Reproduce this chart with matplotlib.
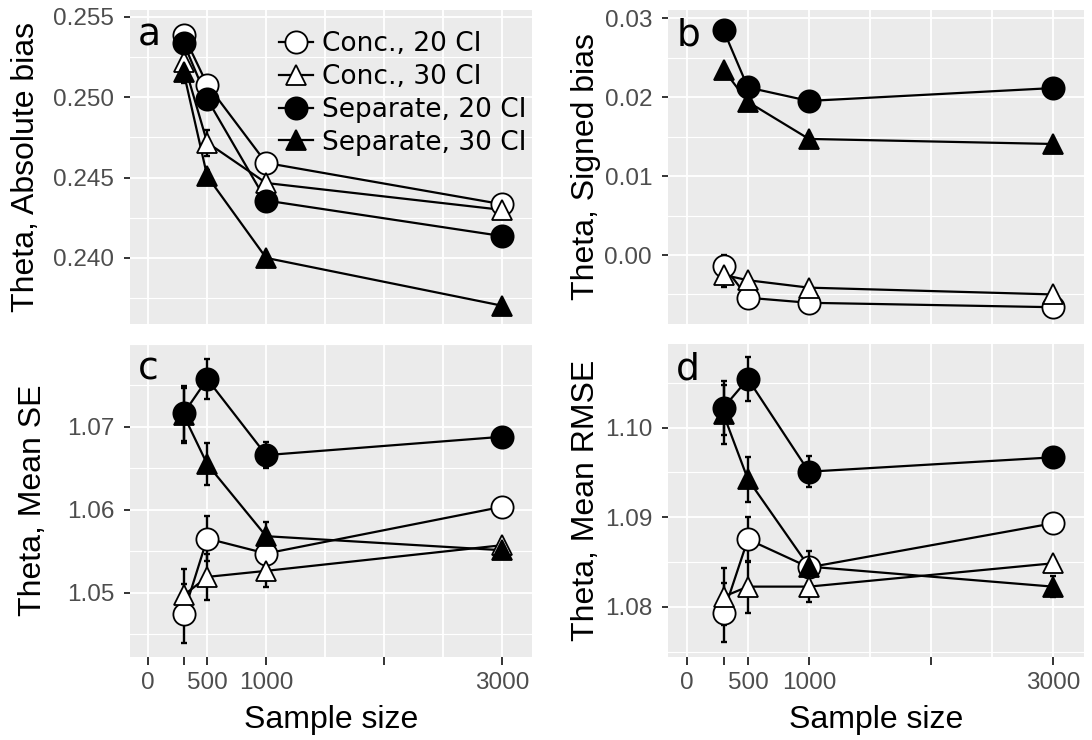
import numpy as np
import matplotlib
matplotlib.use("Agg")
import matplotlib.pyplot as plt
from matplotlib.ticker import FixedLocator

# sample sizes
n = [300, 500, 1000, 3000]

series = ["Conc., 20 CI", "Conc., 30 CI", "Separate, 20 CI", "Separate, 30 CI"]

# a: absolute bias
abs_bias = {
    "Conc., 20 CI":    [0.25385, 0.25078, 0.24591, 0.24334],
    "Conc., 30 CI":    [0.25218, 0.24717, 0.24466, 0.24299],
    "Separate, 20 CI": [0.25337, 0.24988, 0.24357, 0.24136],
    "Separate, 30 CI": [0.25155, 0.24508, 0.24000, 0.23703],
}
abs_bias_err = {
    "Conc., 20 CI":    [0.0006, 0.0003, 0.0003, 0.0002],
    "Conc., 30 CI":    [0.0006, 0.0008, 0.0003, 0.0002],
    "Separate, 20 CI": [0.0005, 0.0003, 0.0003, 0.0002],
    "Separate, 30 CI": [0.0007, 0.0004, 0.0003, 0.0002],
}

# b: signed bias
signed_bias = {
    "Conc., 20 CI":    [-0.00137, -0.00542, -0.00606, -0.00662],
    "Conc., 30 CI":    [-0.00252, -0.00320, -0.00414, -0.00500],
    "Separate, 20 CI": [0.02851, 0.02125, 0.01954, 0.02117],
    "Separate, 30 CI": [0.02351, 0.01942, 0.01472, 0.01408],
}
signed_bias_err = {
    "Conc., 20 CI":    [0.0014, 0.0004, 0.0003, 0.0002],
    "Conc., 30 CI":    [0.0016, 0.0006, 0.0003, 0.0002],
    "Separate, 20 CI": [0.0005, 0.0004, 0.0003, 0.0002],
    "Separate, 30 CI": [0.0005, 0.0004, 0.0003, 0.0002],
}

# c: mean SE
mean_se = {
    "Conc., 20 CI":    [1.04747, 1.05652, 1.05471, 1.06034],
    "Conc., 30 CI":    [1.04968, 1.05189, 1.05262, 1.05571],
    "Separate, 20 CI": [1.07161, 1.07575, 1.06658, 1.06879],
    "Separate, 30 CI": [1.07140, 1.06549, 1.05680, 1.05511],
}
mean_se_err = {
    "Conc., 20 CI":    [0.0036, 0.0027, 0.0008, 0.0005],
    "Conc., 30 CI":    [0.0032, 0.0028, 0.0019, 0.0006],
    "Separate, 20 CI": [0.0033, 0.0024, 0.0016, 0.0005],
    "Separate, 30 CI": [0.0033, 0.0025, 0.0017, 0.0007],
}

# d: mean RMSE
mean_rmse = {
    "Conc., 20 CI":    [1.07937, 1.08755, 1.08442, 1.08933],
    "Conc., 30 CI":    [1.08115, 1.08227, 1.08227, 1.08487],
    "Separate, 20 CI": [1.10223, 1.10543, 1.09509, 1.09669],
    "Separate, 30 CI": [1.10149, 1.09424, 1.08450, 1.08227],
}
mean_rmse_err = {
    "Conc., 20 CI":    [0.0033, 0.0025, 0.0008, 0.0005],
    "Conc., 30 CI":    [0.0032, 0.0029, 0.0017, 0.0006],
    "Separate, 20 CI": [0.0030, 0.0025, 0.0017, 0.0005],
    "Separate, 30 CI": [0.0033, 0.0025, 0.0017, 0.0012],
}

styles = {
    "Conc., 20 CI":    ("o", "white"),
    "Conc., 30 CI":    ("^", "white"),
    "Separate, 20 CI": ("o", "black"),
    "Separate, 30 CI": ("^", "black"),
}

W, H = 1092, 740
fig = plt.figure(figsize=(W / 100, H / 100), dpi=100)


def box(left, right, top, bottom):
    return [left / W, (H - bottom) / H, (right - left) / W, (bottom - top) / H]


panels = [
    ("a", abs_bias, abs_bias_err, "Theta, Absolute bias", box(130, 532, 10, 324),
     (0.23589, 0.25542), [0.240, 0.245, 0.250, 0.255], "{:.3f}", 0.0025, False, -0.222),
    ("b", signed_bias, signed_bias_err, "Theta, Signed bias", box(668, 1084, 10, 324),
     (-0.00875, 0.03107), [0.00, 0.01, 0.02, 0.03], "{:.2f}", 0.005, False, -0.16),
    ("c", mean_se, mean_se_err, "Theta, Mean SE", box(130, 532, 344, 657),
     (1.04223, 1.07998), [1.05, 1.06, 1.07], "{:.2f}", 0.005, True, -0.205),
    ("d", mean_rmse, mean_rmse_err, "Theta, Mean RMSE", box(668, 1084, 344, 657),
     (1.07442, 1.10933), [1.08, 1.09, 1.10], "{:.2f}", 0.005, True, -0.16),
]

xlim = (-155, 3255)
xgrid = [0, 500, 1000, 1500, 2000, 2500, 3000]
xticks = [0, 300, 500, 1000, 2000, 3000]
xticklabels = ["0", "", "500", "1000", "", "3000"]
sans = ["Liberation Sans", "DejaVu Sans"]

for letter, vals, errs, ylab, pos, ylim, yt, fmt, ystep, bottom, labx in panels:
    ax = fig.add_axes(pos)
    ax.set_facecolor("#EBEBEB")
    for s in ax.spines.values():
        s.set_visible(False)
    ax.set_xlim(xlim)
    ax.set_ylim(ylim)

    # grid
    for g in xgrid:
        ax.axvline(g, color="white", lw=1.3, zorder=0)
    lo = np.floor(ylim[0] / ystep) * ystep
    for g in np.arange(lo, ylim[1] + ystep, ystep):
        major = any(abs(g - t) < ystep / 10 for t in yt)
        ax.axhline(g, color="white", lw=1.3 if major else 0.8, zorder=0)

    for name in series:
        ax.errorbar(n, vals[name], yerr=errs[name], fmt="none", ecolor="black",
                    elinewidth=1.7, capsize=2.4, capthick=1.7, zorder=2)
        ax.plot(n, vals[name], color="black", lw=1.6, zorder=2)
    for i, name in enumerate(series):
        m, fc = styles[name]
        ax.plot(n, vals[name], linestyle="none", marker=m, ms=16 if m == "o" else 14,
                mfc=fc, mec="black", mew=1.3, zorder=3 + i)

    ax.set_yticks(yt)
    ax.set_yticklabels([fmt.format(t) for t in yt], family=sans, fontsize=17.5,
                       color="#4D4D4D")
    ax.tick_params(axis="y", length=4.5, width=1.4, color="#333333", pad=7)
    ax.set_ylabel(ylab, family=sans, fontsize=23)
    ax.yaxis.set_label_coords(labx, 0.5)

    if bottom:
        ax.xaxis.set_major_locator(FixedLocator(xticks))
        ax.set_xticklabels(xticklabels, family=sans, fontsize=17.5, color="#4D4D4D")
        ax.tick_params(axis="x", length=5.5, width=1.4, color="#333333", pad=5)
        ax.set_xlabel("Sample size", family=sans, fontsize=23, labelpad=8)
    else:
        ax.set_xticks([])

    ax.text(0.02, 0.975, letter, transform=ax.transAxes, ha="left", va="top",
            fontsize=27, family="DejaVu Sans")

    if letter == "a":
        handles = []
        for name in series:
            m, fc = styles[name]
            h, = ax.plot([], [], color="black", lw=1.6, marker=m,
                         ms=16 if m == "o" else 14, mfc=fc, mec="black", mew=1.3)
            handles.append(h)
        ax.legend(handles, series, loc="upper right", bbox_to_anchor=(1.02, 0.975),
                  frameon=False, handlelength=1.3, handletextpad=0.35,
                  labelspacing=0.26, borderaxespad=0.1,
                  prop={"family": "DejaVu Sans", "size": 19})

fig.savefig("out.png", dpi=100)
